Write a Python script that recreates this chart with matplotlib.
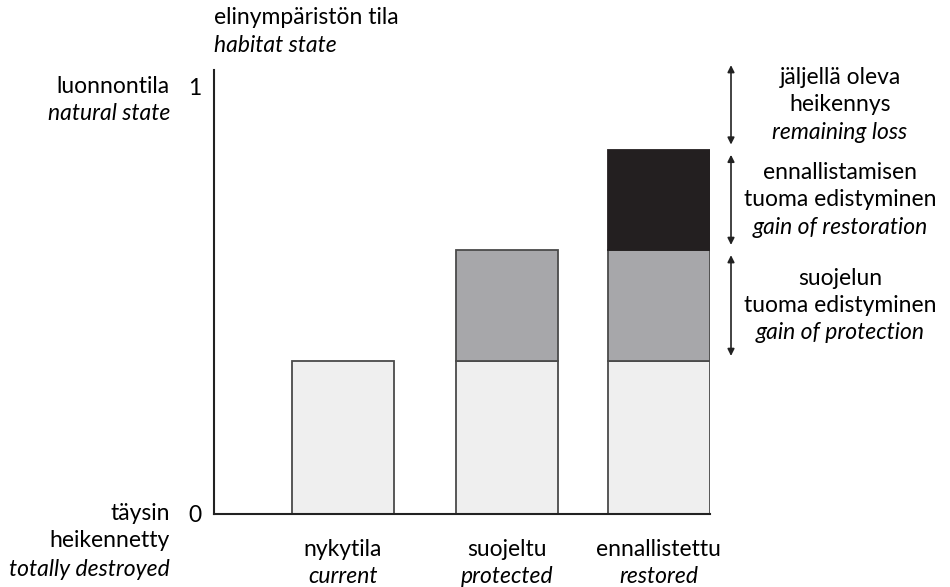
import matplotlib.pyplot as plt

plt.rcParams['font.family'] = ['Lato', 'DejaVu Sans']

# data
categories = ["nykytila", "suojeltu", "ennallistettu"]
categories_en = ["current", "protected", "restored"]
base = [0.357, 0.357, 0.357]
protection_gain = [0.0, 0.26, 0.26]
restoration_gain = [0.0, 0.0, 0.235]
top_level = 1.062

# layout (x in pixel-like units measured from the y axis)
xpos = [129, 293, 444.5]
width = 102

fig = plt.figure(figsize=(9.5, 5.87), dpi=100)
ax = fig.add_axes([214 / 950, (587 - 513.5) / 587, 496 / 950, 443.5 / 587])

edge = '#4a4a4a'
ax.bar(xpos, base, width, color='#efefef', edgecolor=edge, linewidth=1.3)
prot_bottom = base
ax.bar(xpos[1:], protection_gain[1:], width, bottom=prot_bottom[1:],
       color='#a7a7aa', edgecolor=edge, linewidth=1.3)
rest_bottom = [b + p for b, p in zip(base, protection_gain)]
ax.bar(xpos[2:], restoration_gain[2:], width, bottom=rest_bottom[2:],
       color='#231f20', edgecolor='#231f20', linewidth=1.3)

ax.set_xlim(0, 496)
ax.set_ylim(0, 443.5 / 427)
for s in ['top', 'right']:
    ax.spines[s].set_visible(False)
for s in ['left', 'bottom']:
    ax.spines[s].set_color('#222222')
    ax.spines[s].set_linewidth(1.5)
ax.set_xticks([])
ax.set_yticks([0, 1])
ax.set_yticklabels(['0', '1'], fontsize=16.5)
ax.tick_params(axis='y', length=0, pad=9)

fs = 16.5
# category labels
for x, fi, en in zip(xpos, categories, categories_en):
    ax.text(x, -0.085, fi, ha='center', va='center', fontsize=fs)
    ax.text(x, -0.148, en, ha='center', va='center', fontsize=fs, style='italic')

# y axis side labels
ax.text(-44, 1.0, "luonnontila", ha='right', va='center', fontsize=fs)
ax.text(-44, 0.937, "natural state", ha='right', va='center', fontsize=fs, style='italic')
ax.text(-44, 0.0, "täysin", ha='right', va='center', fontsize=fs, clip_on=False)
ax.text(-44, -0.063, "heikennetty", ha='right', va='center', fontsize=fs)
ax.text(-44, -0.131, "totally destroyed", ha='right', va='center', fontsize=fs, style='italic')

# title at top of axis
ax.text(0, 1.161, "elinympäristön tila", ha='left', va='center', fontsize=fs)
ax.text(0, 1.096, "habitat state", ha='left', va='center', fontsize=fs, style='italic')

# arrows
levels = [base[2], rest_bottom[2], rest_bottom[2] + restoration_gain[2], top_level]
ax_x = 517
gap = 0.012
for lo, hi in zip(levels[:-1], levels[1:]):
    ax.annotate('', xy=(ax_x, hi - gap), xytext=(ax_x, lo + gap),
                arrowprops=dict(arrowstyle='<|-|>', color='#222222', lw=1.2,
                                mutation_scale=10, shrinkA=0, shrinkB=0),
                annotation_clip=False)

labels = [
    ("suojelun", "tuoma edistyminen", "gain of protection"),
    ("ennallistamisen", "tuoma edistyminen", "gain of restoration"),
    ("jäljellä oleva", "heikennys", "remaining loss"),
]
tx = 626
for (lo, hi), (l1, l2, l3) in zip(zip(levels[:-1], levels[1:]), labels):
    mid = (lo + hi) / 2
    ax.text(tx, mid + 0.064, l1, ha='center', va='center', fontsize=fs)
    ax.text(tx, mid, l2, ha='center', va='center', fontsize=fs)
    ax.text(tx, mid - 0.064, l3, ha='center', va='center', fontsize=fs, style='italic')

fig.savefig('out.png', dpi=100)
